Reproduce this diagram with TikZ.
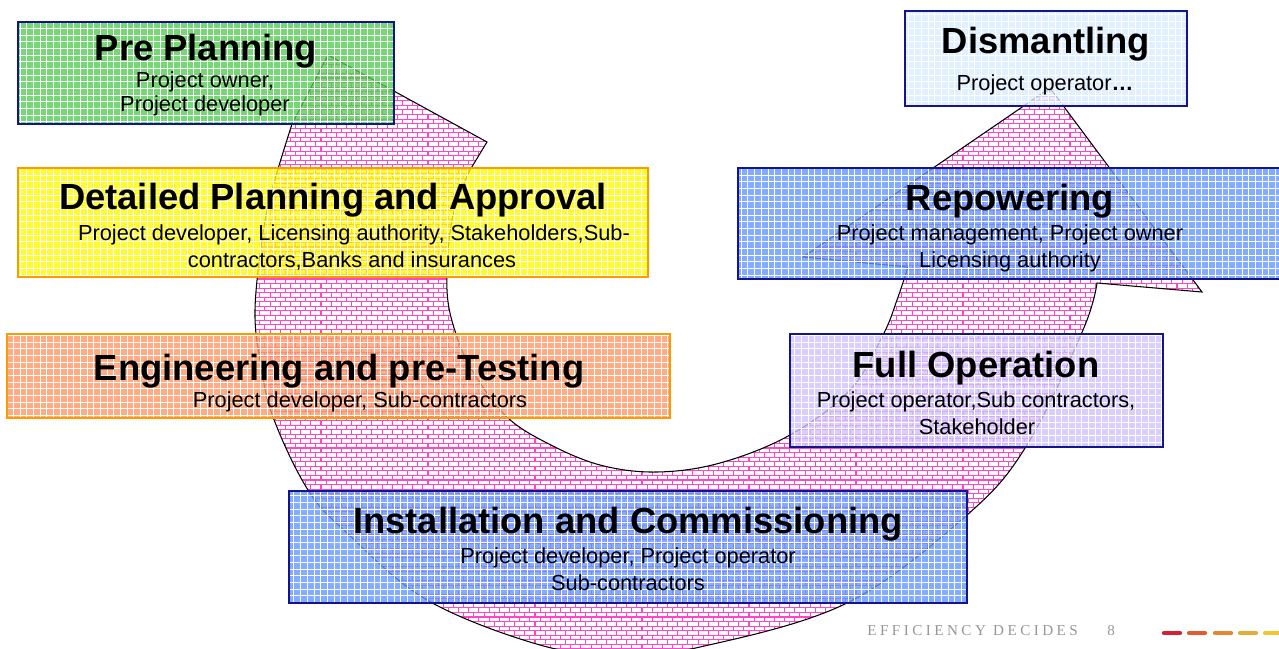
\documentclass[tikz,border=0pt]{standalone}
\usepackage{fontspec}
\setmainfont{Liberation Sans}
\newfontfamily\footfont[LetterSpace=23]{Liberation Serif}
\usetikzlibrary{patterns,fit}
\pgfdeclarepatternformonly{pinkbricks}{\pgfqpoint{-0.5pt}{-0.5pt}}{\pgfqpoint{6.3pt}{5.7pt}}{\pgfqpoint{5.8pt}{5.2pt}}{%
 \pgfsetlinewidth{0.6pt}%
 \pgfpathmoveto{\pgfqpoint{0pt}{0pt}}\pgfpathlineto{\pgfqpoint{5.8pt}{0pt}}%
 \pgfpathmoveto{\pgfqpoint{0pt}{2.6pt}}\pgfpathlineto{\pgfqpoint{5.8pt}{2.6pt}}%
 \pgfpathmoveto{\pgfqpoint{0pt}{0pt}}\pgfpathlineto{\pgfqpoint{0pt}{2.6pt}}%
 \pgfpathmoveto{\pgfqpoint{2.9pt}{2.6pt}}\pgfpathlineto{\pgfqpoint{2.9pt}{5.2pt}}%
 \pgfusepath{stroke}}
\pgfdeclarepatternformonly{boxgrid}{\pgfqpoint{-0.5pt}{-0.5pt}}{\pgfqpoint{4.3pt}{4.3pt}}{\pgfqpoint{3.8pt}{3.8pt}}{%
 \pgfsetlinewidth{0.3pt}%
 \pgfpathmoveto{\pgfqpoint{0pt}{-0.5pt}}\pgfpathlineto{\pgfqpoint{0pt}{4.3pt}}%
 \pgfpathmoveto{\pgfqpoint{-0.5pt}{0pt}}\pgfpathlineto{\pgfqpoint{4.3pt}{0pt}}%
 \pgfusepath{stroke}}
\definecolor{navyc}{RGB}{20,20,140}
\definecolor{orangec}{RGB}{255,153,0}
\definecolor{ppgreen}{RGB}{85,205,85}
\definecolor{dpyellow}{RGB}{255,250,0}
\definecolor{epsalmon}{RGB}{255,150,100}
\definecolor{icblue}{RGB}{100,150,255}
\definecolor{fopurple}{RGB}{208,195,255}
\definecolor{dsblue}{RGB}{218,236,255}
\definecolor{brickpink}{RGB}{255,70,200}
\definecolor{footgray}{RGB}{150,150,150}
\definecolor{d1}{RGB}{215,30,50}
\definecolor{d2}{RGB}{228,90,45}
\definecolor{d3}{RGB}{230,135,45}
\definecolor{d4}{RGB}{228,172,50}
\definecolor{d5}{RGB}{240,200,45}
\begin{document}
\begin{tikzpicture}[x=0.02cm, y=-0.02cm,
  stagebox/.style 2 args={inner sep=0pt, line width=0.9pt, draw=#2,
     preaction={fill=#1, fill opacity=0.8},
     preaction={pattern=boxgrid, pattern color=white, fill opacity=0.14}},
  ttl/.style={anchor=base, inner sep=0pt, font=\fontsize{20.7pt}{24pt}\selectfont\bfseries},
  sub/.style={anchor=base, inner sep=0pt, font=\fontsize{12.4pt}{15pt}\selectfont},
  foot/.style={anchor=base west, inner sep=0pt, text=footgray, font=\footfont\fontsize{8.6pt}{10pt}\selectfont},
  dashbar/.style={line width=2.4pt, line cap=round}]
\useasboundingbox (0,0) rectangle (1279,649);
% big curved arrow
\path[preaction={fill=white}, pattern=pinkbricks, pattern color=brickpink, draw=black, line width=0.6pt]
  (328,55) -- (292,124)
  -- plot[smooth, tension=0.6] coordinates {(292,124) (272,190) (262,240) (255,310) (260,360) (273,417) (308,490) (347,533) (427,600) (540,645) (620,655) (700,647) (847,603) (967,515) (1027,445) (1083,330) (1097,283)}
  -- (1202,292) -- (1050,88) -- (803,257) -- (908,267)
  -- plot[smooth, tension=0.6] coordinates {(908,267) (897,300) (883,335) (850,390) (790,435) (720,463) (657,472) (600,465) (547,443) (507,417) (475,375) (457,337) (447,290) (452,220) (470,170)}
  -- (487,142) -- cycle;
% boxes
\node[stagebox={ppgreen}{navyc}, fit={(18,22) (394,124)}] (ppbox) {};
\node[stagebox={dpyellow}{orangec}, fit={(18,168) (648,277)}] (dpbox) {};
\node[stagebox={epsalmon}{orangec}, fit={(7,334) (670,418)}] (epbox) {};
\node[stagebox={icblue}{navyc}, fit={(289,491) (967,603)}] (icbox) {};
\node[stagebox={fopurple}{navyc}, fit={(790,334) (1163,447)}] (fobox) {};
\node[stagebox={icblue}{navyc}, fit={(738,168) (1290,279)}] (rpbox) {};
\node[stagebox={dsblue}{navyc}, fit={(905,11) (1187,106)}] (dsbox) {};
% texts
\node[ttl] (ppt) at (206,60) {Pre Planning};
\node[sub] (pps1) at (205,87) {Project owner,};
\node[sub] (pps2) at (205,111) {Project developer};
\node[ttl] (dpt) at (333,209) {Detailed Planning and Approval};
\node[sub] (dps1) at (354,240) {Project developer, Licensing authority, Stakeholders,Sub-};
\node[sub] (dps2) at (352,267) {contractors,Banks and insurances};
\node[ttl] (ept) at (339,380) {Engineering and pre-Testing};
\node[sub] (eps1) at (360,407) {Project developer, Sub-contractors};
\node[ttl] (ict) at (628,533) {Installation and Commissioning};
\node[sub] (ics1) at (628,563) {Project developer, Project operator};
\node[sub] (ics2) at (628,590) {Sub-contractors};
\node[ttl] (fot) at (976,377) {Full Operation};
\node[sub] (fos1) at (976,407) {Project operator,Sub contractors,};
\node[sub] (fos2) at (977,434) {Stakeholder};
\node[ttl] (rpt) at (1010,210) {Repowering};
\node[sub] (rps1) at (1010,240) {Project management, Project owner};
\node[sub] (rps2) at (1010,267) {Licensing authority};
\node[ttl] (dst) at (1046,53) {Dismantling};
\node[sub] (dss1) at (1045,91) {Project operator\textbf{…}};
% footer
\node[foot] (eff) at (867,635) {EFFICIENCY DECIDES};
\node[foot] (pg) at (1107,635) {8};
\draw[dashbar, d1] (1164,633) -- (1180,633);
\draw[dashbar, d2] (1189,633) -- (1205,633);
\draw[dashbar, d3] (1215,633) -- (1231,633);
\draw[dashbar, d4] (1240,633) -- (1256,633);
\draw[dashbar, d5] (1265,633) -- (1285,633);
\end{tikzpicture}
\end{document}
